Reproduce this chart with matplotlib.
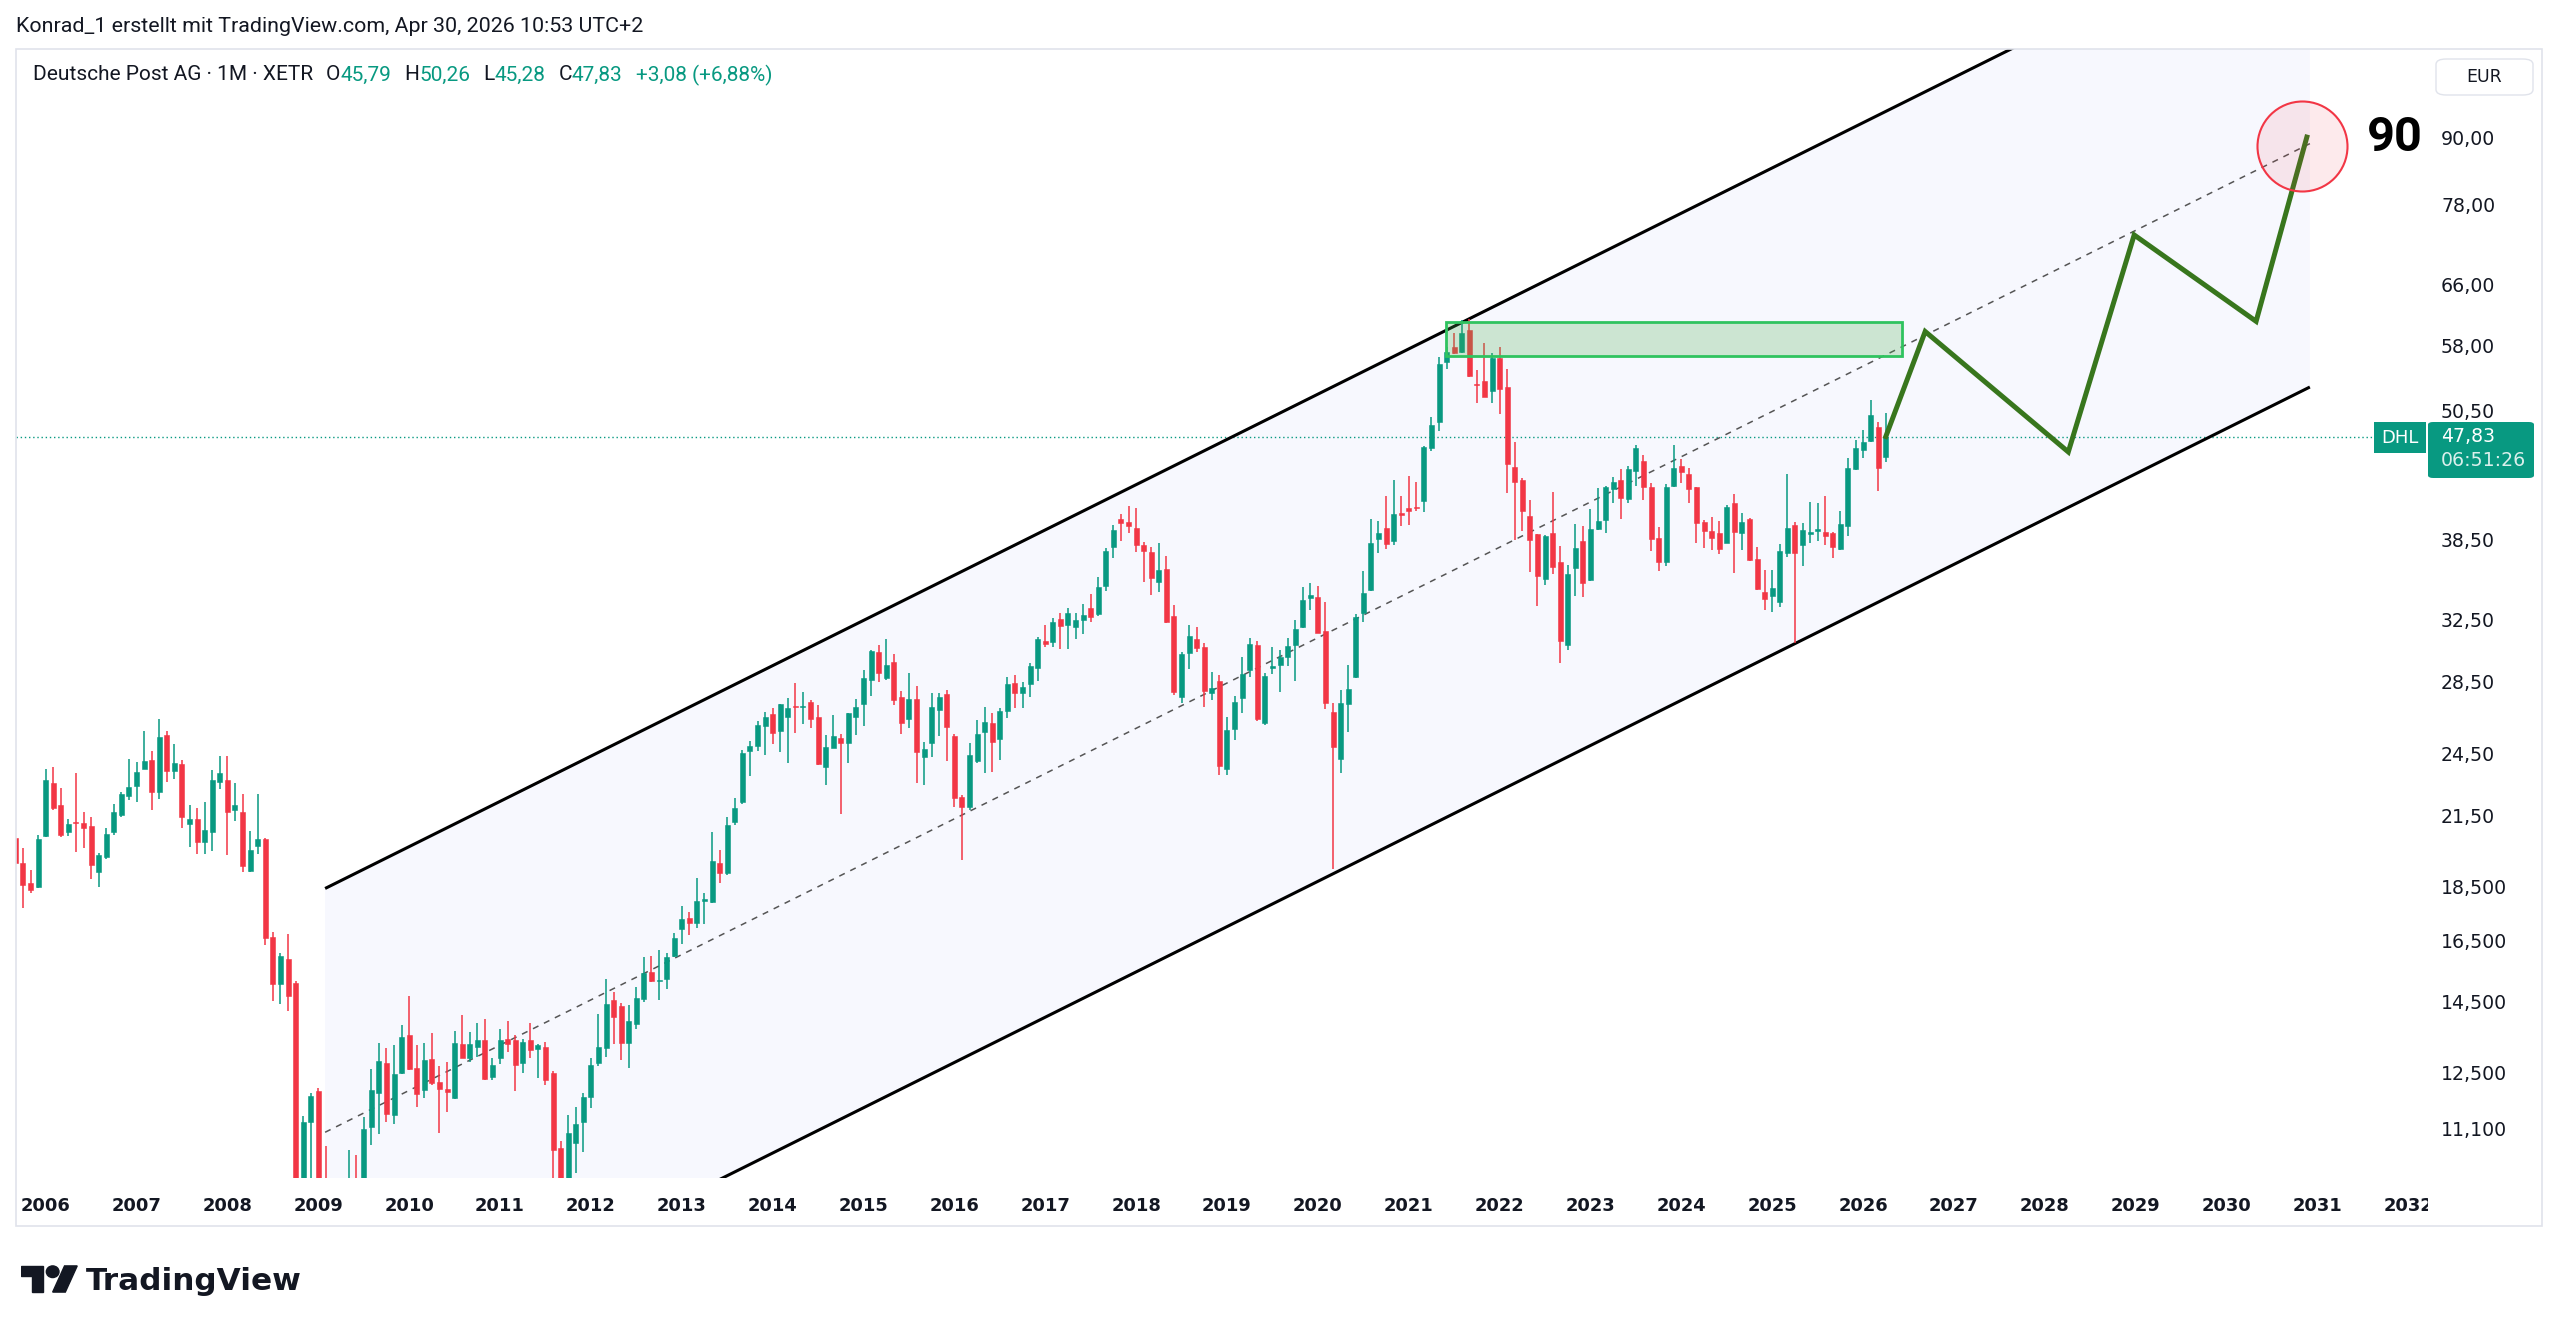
import numpy as np
import pandas as pd
import matplotlib
matplotlib.use("Agg")
import matplotlib.pyplot as plt
from matplotlib.patches import Rectangle, Polygon, Circle, FancyBboxPatch
from matplotlib.ticker import NullLocator
from matplotlib.transforms import Bbox, TransformedBbox

W, H = 2560, 1334
GREEN = "#089981"
RED = "#f23645"
DARK = "#131722"

# monthly candles Deutsche Post AG (XETR), Sep 2005 .. Apr 2026
start, end = "2005-09", "2026-04"
opens = [
    20.5, 19.45, 18.62, 18.48,
    20.57, 23.03, 21.95, 20.77, 21.18, 21.15, 21.01, 19.08, 19.69, 20.74, 21.51, 22.40,
    22.86, 23.70, 24.15, 22.59, 25.47, 23.61, 23.95, 21.12, 21.32, 20.33, 20.77, 23.08,
    23.16, 21.74, 21.64, 19.11, 20.15, 20.47, 16.62, 15.07, 15.86, 15.09, 9.3, 11.26,
    12.0, 9.3, 7.8, 8.4, 9.4, 9.9, 9.5, 11.14, 11.95, 12.73, 11.42, 12.48,
    13.52, 12.60, 12.03, 12.86, 12.25, 12.07, 11.84, 13.27, 12.88, 13.18, 13.37, 12.38,
    12.88, 13.41, 13.37, 12.73, 13.39, 13.13, 13.19, 12.47, 10.65, 9.7, 10.77, 11.26,
    11.85, 12.73, 13.14, 14.57, 14.36, 13.30, 13.85, 14.6, 15.45, 15.15, 15.23, 15.98,
    16.9, 17.30, 17.14, 17.95, 17.9, 19.45, 19.03, 21.2, 22.1, 24.6, 24.86, 25.95,
    26.6, 25.68, 26.44, 27.1, 27.0, 27.3, 26.47, 23.8, 24.8, 25.3, 25.05, 26.47,
    27.2, 28.6, 30.37, 28.7, 29.74, 27.6, 26.32, 27.46, 24.3, 25.03, 26.85, 27.78,
    25.39, 22.36, 21.89, 24.1, 25.63, 26.1, 25.27, 26.81, 28.41, 27.86, 28.35, 29.33,
    31.06, 31.02, 32.52, 32.13, 31.97, 32.48, 33.31, 32.88, 34.92, 37.91, 40.16, 39.91,
    39.43, 38.0, 37.52, 35.21, 36.14, 32.75, 27.58, 30.31, 31.21, 30.65, 27.86, 28.55,
    23.69, 25.78, 27.52, 29.23, 30.78, 26.11, 29.33, 29.50, 30.06, 30.78, 31.99, 34.0,
    34.06, 31.73, 26.71, 24.20, 27.2, 28.80, 32.94, 34.6, 38.56, 39.41, 38.33, 40.7,
    41.17, 41.2, 41.74, 46.7, 49.3, 56.03, 57.75, 57.22, 59.90, 53.44, 53.78, 52.6,
    56.5, 53.14, 44.88, 43.64, 40.48, 38.92, 35.4, 39.0, 36.73, 30.77, 36.2, 38.37,
    35.33, 39.35, 40.1, 42.79, 43.64, 41.93, 44.49, 45.46, 42.97, 38.58, 36.72, 43.1,
    44.95, 44.2, 42.97, 39.91, 39.19, 39.0, 38.23, 41.6, 39.0, 40.2, 36.9, 34.47,
    34.18, 33.75, 37.38, 39.66, 38.0, 38.91, 39.19, 39.13, 39.0, 37.7, 39.63, 44.63,
    46.5, 47.34, 48.81, 45.79,
]
highs = [
    20.7, 20.05, 19.15, 20.64,
    23.69, 23.82, 22.75, 21.32, 23.49, 21.64, 21.43, 19.86, 20.91, 22.04, 22.59, 24.21,
    24.07, 25.68, 24.63, 26.32, 25.68, 24.99, 24.15, 21.99, 21.81, 22.11, 23.66, 24.36,
    24.36, 23.03, 22.51, 20.80, 22.51, 20.5, 16.81, 16.08, 16.74, 15.14, 11.40, 11.95,
    12.10, 10.7, 9.0, 9.8, 10.6, 10.49, 11.37, 12.57, 13.30, 13.16, 13.23, 13.81,
    14.68, 13.23, 13.30, 13.57, 12.65, 12.78, 13.63, 14.10, 13.60, 13.86, 13.99, 12.88,
    13.68, 13.92, 13.51, 13.41, 13.88, 13.27, 13.32, 12.53, 10.8, 11.43, 11.62, 11.95,
    12.87, 14.13, 15.2, 14.81, 14.45, 14.40, 14.97, 15.95, 15.97, 16.18, 16.07, 16.75,
    17.75, 17.54, 18.82, 18.23, 20.75, 19.99, 21.43, 22.28, 24.68, 25.15, 26.23, 26.75,
    26.94, 27.2, 27.52, 28.44, 27.9, 27.45, 27.13, 25.48, 26.56, 25.55, 26.7, 27.46,
    29.21, 30.5, 30.78, 31.2, 30.25, 27.93, 29.05, 28.24, 25.12, 27.82, 27.86, 28.0,
    25.55, 22.44, 25.03, 26.28, 27.0, 26.66, 26.94, 28.77, 28.91, 28.51, 29.63, 31.33,
    32.13, 32.63, 32.93, 33.33, 32.98, 33.57, 34.29, 35.54, 37.78, 39.68, 40.59, 41.31,
    41.11, 38.3, 37.91, 38.18, 37.16, 33.5, 30.33, 32.13, 32.02, 30.95, 29.12, 28.91,
    26.48, 27.66, 30.04, 31.28, 31.08, 29.06, 30.65, 30.48, 31.26, 32.48, 34.78, 35.14,
    34.86, 33.7, 27.23, 28.03, 29.55, 32.85, 36.01, 40.2, 40.0, 42.16, 43.62, 42.16,
    44.0, 43.43, 46.9, 49.8, 56.6, 57.8, 59.5, 61.2, 61.27, 55.07, 58.24, 57.02,
    57.75, 55.15, 47.28, 43.8, 41.86, 38.95, 38.87, 42.58, 37.97, 36.47, 39.77, 39.6,
    41.05, 42.88, 43.1, 43.9, 44.65, 44.99, 47.0, 46.0, 43.4, 39.5, 43.26, 46.99,
    45.57, 44.74, 43.0, 40.1, 40.38, 40.0, 41.4, 42.37, 40.73, 40.3, 37.86, 36.08,
    36.08, 38.13, 44.2, 39.94, 39.83, 41.63, 41.54, 42.19, 39.1, 40.87, 45.7, 47.49,
    48.54, 51.67, 49.3, 50.26,
]
lows = [
    19.3, 17.68, 18.23, 18.42,
    20.54, 21.74, 20.52, 20.57, 19.90, 20.05, 18.81, 18.46, 19.62, 20.62, 21.43, 22.19,
    22.11, 23.69, 21.74, 22.26, 23.05, 23.21, 20.91, 20.09, 19.81, 19.82, 19.93, 22.72,
    19.76, 21.26, 19.08, 19.08, 19.83, 16.34, 14.53, 14.43, 14.23, 7.9, 8.0, 9.5,
    8.9, 7.6, 6.6, 8.0, 9.0, 8.9, 9.2, 10.71, 10.96, 11.24, 11.21, 12.46,
    12.55, 11.62, 11.84, 12.16, 11.00, 11.48, 11.82, 12.87, 12.78, 12.90, 12.29, 12.29,
    12.71, 13.04, 12.01, 12.48, 12.88, 12.34, 12.16, 9.8, 9.0, 9.5, 10.11, 10.56,
    11.6, 12.66, 12.9, 13.26, 12.83, 12.62, 13.69, 14.5, 15.12, 14.57, 14.9, 15.95,
    16.40, 16.70, 16.96, 17.09, 17.87, 18.65, 18.97, 21.06, 22.0, 23.36, 24.63, 24.42,
    25.0, 24.56, 24.03, 25.59, 26.06, 25.83, 23.9, 22.92, 24.8, 21.56, 24.0, 25.48,
    25.95, 27.65, 28.5, 28.6, 27.13, 25.55, 25.83, 23.0, 22.92, 24.3, 25.39, 24.13,
    21.89, 19.56, 21.74, 24.0, 23.52, 23.55, 24.16, 26.39, 26.95, 26.95, 27.58, 28.57,
    30.65, 30.69, 30.52, 30.52, 31.17, 31.52, 32.32, 32.75, 34.53, 37.0, 38.40, 38.99,
    37.5, 35.15, 34.24, 34.48, 32.25, 27.73, 27.23, 29.27, 30.37, 27.04, 27.43, 23.41,
    23.41, 25.2, 26.66, 28.77, 26.26, 26.02, 29.0, 27.88, 29.47, 28.53, 31.9, 33.19,
    31.56, 26.92, 19.20, 23.53, 25.63, 28.75, 32.30, 34.5, 37.44, 37.73, 38.03, 39.6,
    39.7, 40.9, 40.8, 46.4, 48.4, 55.2, 56.9, 57.1, 54.27, 51.38, 51.97, 51.38,
    50.13, 42.43, 38.45, 39.14, 35.96, 33.45, 34.95, 35.8, 29.68, 30.45, 34.16, 34.1,
    35.28, 39.27, 39.04, 41.55, 40.2, 41.6, 43.09, 41.83, 37.59, 36.03, 36.4, 43.03,
    43.4, 41.6, 38.23, 37.76, 37.64, 37.33, 38.18, 35.83, 37.64, 36.8, 34.6, 33.16,
    33.04, 33.4, 37.11, 30.96, 36.4, 38.18, 38.39, 38.05, 36.98, 37.64, 38.8, 44.6,
    45.7, 47.27, 42.67, 45.28,
]
closes = [
    19.42, 18.55, 18.38, 20.44,
    23.16, 21.81, 20.62, 21.09, 21.15, 20.91, 19.35, 19.76, 20.68, 21.64, 22.48, 22.80,
    23.57, 24.10, 22.59, 25.34, 23.62, 24.00, 21.43, 21.32, 20.33, 20.86, 23.16, 23.49,
    21.63, 21.95, 19.31, 20.00, 20.43, 16.58, 15.07, 15.97, 14.67, 9.3, 11.26, 11.88,
    9.2, 7.8, 8.4, 9.4, 9.9, 9.5, 11.08, 12.03, 12.79, 11.45, 12.44, 13.47,
    12.59, 11.94, 12.82, 12.21, 12.07, 11.99, 13.30, 12.88, 13.27, 13.39, 12.31, 12.69,
    13.37, 13.27, 12.69, 13.32, 13.09, 13.23, 12.30, 10.60, 9.7, 11.0, 11.20, 11.87,
    12.69, 13.18, 14.42, 14.05, 13.30, 13.93, 14.61, 15.42, 15.16, 15.18, 15.95, 16.60,
    17.26, 17.14, 17.95, 18.00, 19.53, 19.05, 21.06, 21.82, 24.51, 24.89, 26.01, 26.47,
    25.59, 27.17, 26.94, 27.0, 27.1, 26.32, 23.94, 24.85, 25.39, 25.03, 26.66, 27.0,
    28.70, 30.41, 29.05, 29.53, 27.42, 26.14, 27.46, 24.55, 24.73, 27.03, 27.62, 25.92,
    22.28, 21.89, 24.42, 25.55, 26.19, 25.11, 26.81, 28.37, 27.82, 28.17, 29.47, 31.21,
    30.87, 32.34, 32.06, 32.98, 32.48, 32.79, 32.70, 34.80, 37.60, 39.26, 39.82, 39.63,
    38.05, 37.6, 35.46, 36.09, 32.36, 27.88, 30.20, 31.39, 30.63, 27.92, 28.10, 23.86,
    25.74, 27.28, 28.96, 30.85, 26.33, 28.87, 29.47, 30.01, 30.71, 31.85, 33.90, 34.2,
    31.61, 27.23, 24.85, 27.23, 28.09, 32.68, 34.38, 38.23, 38.98, 38.09, 40.63, 40.5,
    40.85, 41.1, 46.82, 49.0, 55.72, 57.22, 57.02, 59.48, 54.35, 53.37, 52.04, 56.5,
    52.84, 45.1, 43.43, 40.83, 38.45, 35.65, 38.81, 36.34, 31.07, 35.8, 37.78, 35.13,
    39.35, 40.05, 43.03, 43.43, 41.99, 44.67, 46.66, 43.03, 38.5, 36.72, 42.97, 44.79,
    44.42, 42.85, 39.83, 39.19, 38.58, 37.73, 41.25, 39.13, 39.97, 36.85, 34.66, 33.92,
    34.72, 37.59, 39.47, 37.43, 39.27, 39.13, 39.35, 38.8, 37.91, 39.77, 44.79, 46.66,
    47.27, 50.06, 44.75, 47.83,
]

# drawings (x = months since Jan 2006, y = price)
chan_x = [36.9, 299.0]
chan_upper = [18.42, 148.4]
chan_lower = [6.58, 53.1]
zone_x = [184.9, 245.2]
zone_y = [56.75, 60.95]
path_x = [243.0, 248.2, 267.1, 275.8, 291.9, 298.6]
path_y = [47.83, 59.7, 46.3, 73.2, 61.0, 90.0]
target = (297.9, 88.4)

price_ticks = [90, 78, 66, 58, 50.5, 38.5, 32.5, 28.5, 24.5, 21.5, 18.5, 16.5, 14.5, 12.5, 11.1]
price_labels = ["90,00", "78,00", "66,00", "58,00", "50,50", "38,50", "32,50", "28,50",
                "24,50", "21,50", "18,500", "16,500", "14,500", "12,500", "11,100"]
years = list(range(2006, 2033))
last_price = 47.83


def fx(x):
    return x / W


def fy(y):
    return 1 - y / H


fig = plt.figure(figsize=(W / 100, H / 100), dpi=100)
fig.patch.set_facecolor("white")

# outer frame of the chart
fig.patches.append(Rectangle((fx(16), fy(1226)), fx(2542) - fx(16), fy(49) - fy(1226),
                             transform=fig.transFigure, fill=False, edgecolor="#e0e3eb", lw=1.2))

ax = fig.add_axes([fx(16), fy(1178), fx(2428) - fx(16), fy(49) - fy(1178)])
for s in ax.spines.values():
    s.set_visible(False)
ax.set_yscale("log")
ax.set_xlim(-3.92, 314.6)
ax.set_ylim(9.996, 108.4)

months = pd.period_range(start, end, freq="M")
x = np.asarray((months.year - 2006) * 12 + (months.month - 1), dtype=float)
o, h, l, c = (np.array(v) for v in (opens, highs, lows, closes))
col = np.where(c >= o, GREEN, RED)

# channel
ax.fill_between(chan_x, chan_lower, chan_upper, color="#f7f8fe", lw=0, zorder=0)
ax.plot(chan_x, chan_upper, color="black", lw=2.2, zorder=2, solid_capstyle="butt")
ax.plot(chan_x, chan_lower, color="black", lw=2.2, zorder=2, solid_capstyle="butt")
mid = np.sqrt(np.array(chan_upper) * np.array(chan_lower))
ax.plot(chan_x, mid, color="#555555", lw=1.1, ls=(0, (4, 4)), zorder=2)

# last price line
ax.axhline(last_price, xmax=(2374 - 16) / (2428 - 16), color=GREEN, lw=1.0, ls=(0, (1, 2)), zorder=1)

# candles
ax.vlines(x, l, h, colors=col, lw=1.1, zorder=3)
ax.bar(x, np.abs(c - o), bottom=np.minimum(o, c), width=0.66, color=col,
       edgecolor=col, linewidth=0.4, zorder=4)

# resistance zone
ax.add_patch(Rectangle((zone_x[0], zone_y[0]), zone_x[1] - zone_x[0], zone_y[1] - zone_y[0],
                       facecolor="#4caf50", alpha=0.25, edgecolor="none", zorder=5))
ax.add_patch(Rectangle((zone_x[0], zone_y[0]), zone_x[1] - zone_x[0], zone_y[1] - zone_y[0],
                       fill=False, edgecolor="#2fc35f", lw=2.0, zorder=5))

# projected path and target
ax.plot(path_x, path_y, color="#38761d", lw=3.6, zorder=6, solid_joinstyle="miter")
ax.scatter([target[0]], [target[1]], s=4200, facecolor=(242 / 255, 54 / 255, 69 / 255, 0.1),
           edgecolor=RED, lw=1.5, zorder=7)
ax.text(310.2, 89.8, "90", fontsize=35, fontweight="bold", family="Roboto", color="black",
        ha="center", va="center", zorder=8)

# axes
ax.yaxis.tick_right()
ax.set_yticks(price_ticks)
ax.set_yticklabels(price_labels)
ax.yaxis.set_minor_locator(NullLocator())
ax.tick_params(axis="y", length=0, pad=9.4, labelsize=13.6, labelcolor=DARK)
ax.set_xticks([(yr - 2006) * 12 for yr in years])
ax.set_xticklabels([str(yr) for yr in years], fontweight="bold")
ax.tick_params(axis="x", length=0, pad=13.5, labelsize=12.9, labelcolor=DARK)
clip = TransformedBbox(Bbox([[0, 0], [2428 / W, 1]]), fig.transFigure)
for lab in ax.get_xticklabels():
    lab.set_clip_box(clip)
    lab.set_clip_on(True)

# header texts
fig.text(fx(16), fy(26), "Konrad_1 erstellt mit TradingView.com, Apr 30, 2026 10:53 UTC+2",
         fontsize=15.4, family="Roboto", color=DARK, va="center", ha="left")

rend = fig.canvas.get_renderer()
parts = [("Deutsche Post AG · 1M · XETR", DARK, 0), ("O", DARK, 13), ("45,79", GREEN, 0),
         ("H", DARK, 13), ("50,26", GREEN, 0), ("L", DARK, 13), ("45,28", GREEN, 0),
         ("C", DARK, 13), ("47,83", GREEN, 0), ("+3,08 (+6,88%)", GREEN, 13)]
px = 33
for s, color, gap in parts:
    px += gap
    t = fig.text(fx(px), fy(75), s, fontsize=15, family="Roboto", color=color, va="center", ha="left")
    px += t.get_window_extent(rend).width

# currency box
fig.patches.append(FancyBboxPatch((fx(2436), fy(95)), fx(2533) - fx(2436), fy(59) - fy(95),
                                  boxstyle="round,pad=0,rounding_size=0.004", transform=fig.transFigure,
                                  facecolor="white", edgecolor="#e0e3eb", lw=1))
fig.text(fx(2484), fy(77), "EUR", fontsize=12.5, color=DARK, ha="center", va="center")

# last price labels
fig.patches.append(Rectangle((fx(2374), fy(453)), fx(2426) - fx(2374), fy(422) - fy(453),
                             transform=fig.transFigure, facecolor=GREEN, edgecolor="none"))
fig.text(fx(2400), fy(438), "DHL", fontsize=13, color="white", ha="center", va="center")
fig.patches.append(FancyBboxPatch((fx(2428), fy(478)), fx(2534) - fx(2428), fy(422) - fy(478),
                                  boxstyle="round,pad=0,rounding_size=0.002", transform=fig.transFigure,
                                  facecolor=GREEN, edgecolor="none"))
fig.text(fx(2441), fy(437), "47,83", fontsize=13.6, color="white", ha="left", va="center")
fig.text(fx(2441), fy(461), "06:51:26", fontsize=13.6, color="white", alpha=0.85, ha="left", va="center")

# TradingView logo
lax = fig.add_axes([fx(21), fy(1295), fx(78) - fx(21), fy(1263) - fy(1295)])
lax.set_xlim(0, 36)
lax.set_ylim(24, 2)
lax.axis("off")
lax.add_patch(Polygon([(0, 4), (14, 4), (14, 22), (7, 22), (7, 11), (0, 11)], color=DARK))
lax.add_patch(Circle((20, 8), 4, color=DARK))
lax.add_patch(Polygon([(27.5, 4), (35.5, 4), (28, 22), (20, 22)], color=DARK))
fig.text(fx(86), fy(1281), "TradingView", fontsize=22.4, fontweight="bold", family="DejaVu Sans",
         color=DARK, ha="left", va="center")

fig.savefig("out.png", dpi=100, facecolor="white")
